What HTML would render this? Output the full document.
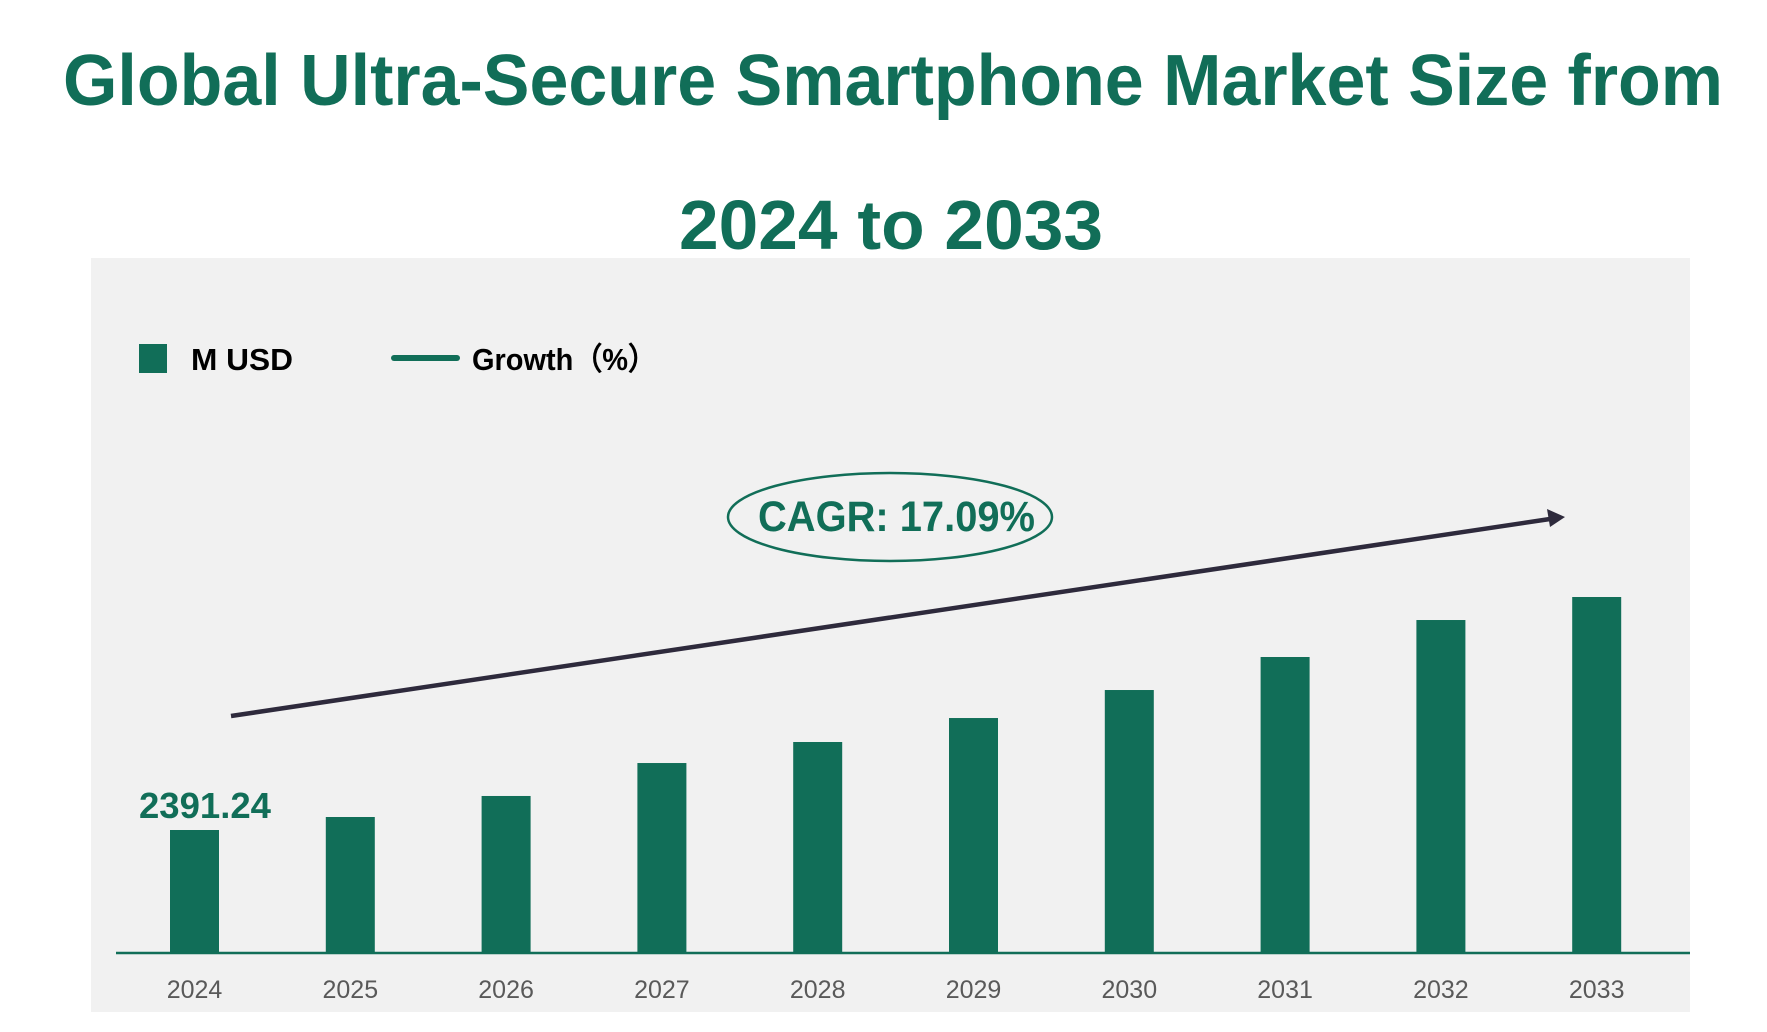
<!DOCTYPE html>
<html><head><meta charset="utf-8"><style>
html,body{margin:0;padding:0;background:#fff;}
svg{display:block;font-family:"Liberation Sans",sans-serif;}
</style></head><body>
<svg id="chart" width="1767" height="1032" viewBox="0 0 1767 1032" xmlns="http://www.w3.org/2000/svg">
<text x="893" y="105" text-anchor="middle" font-size="72" font-weight="bold" fill="#116e58" textLength="1660" lengthAdjust="spacingAndGlyphs">Global Ultra-Secure Smartphone Market Size from</text>
<text x="891" y="249" text-anchor="middle" font-size="70" font-weight="bold" fill="#116e58" textLength="424" lengthAdjust="spacingAndGlyphs">2024 to 2033</text>
<rect x="91" y="258" width="1599" height="754" fill="#f1f1f1"/>
<g>
<rect x="139" y="344" width="28" height="29" fill="#116e58"/>
<text x="191" y="370" font-size="31" font-weight="bold" fill="#000" textLength="102" lengthAdjust="spacingAndGlyphs">M USD</text>
<line x1="394" y1="358" x2="457" y2="358" stroke="#116e58" stroke-width="6" stroke-linecap="round"/>
<text x="472" y="370" font-size="31" font-weight="bold" fill="#000" textLength="185" lengthAdjust="spacingAndGlyphs">Growth（%）</text>
</g>
<g id="bars"></g>
<g id="xlabels"></g>
<line x1="116" y1="953" x2="1690" y2="953" stroke="#116e58" stroke-width="2.5"/>
<line x1="231" y1="716" x2="1550" y2="519" stroke="#2e2a3c" stroke-width="4.5"/>
<polygon points="1565,517 1547,509 1550,527" fill="#2e2a3c"/>
<ellipse cx="890" cy="517" rx="162" ry="44" fill="none" stroke="#116e58" stroke-width="2.5"/>
<text x="758" y="531" font-size="43" font-weight="bold" fill="#116e58" textLength="277" lengthAdjust="spacingAndGlyphs">CAGR: 17.09%</text>
<text x="139" y="818" font-size="36" font-weight="bold" fill="#116e58" textLength="132" lengthAdjust="spacingAndGlyphs">2391.24</text>
</svg>
<script>
const categories = ["2024","2025","2026","2027","2028","2029","2030","2031","2032","2033"];
const values = [2391.24, 2646, 3058, 3704, 4116, 4586, 5135, 5782, 6507, 6958];
const NS = "http://www.w3.org/2000/svg";
const baseY = 952, pxPerUnit = 122 / 2391.24;
function yScale(v){ return baseY - v * pxPerUnit; }
function xScale(i){ return 194.5 + i * 155.8; }
const barW = 49;
const gb = document.getElementById('bars'), gl = document.getElementById('xlabels');
categories.forEach((c, i) => {
  const r = document.createElementNS(NS, 'rect');
  r.setAttribute('x', xScale(i) - barW / 2);
  r.setAttribute('y', yScale(values[i]));
  r.setAttribute('width', barW);
  r.setAttribute('height', baseY - yScale(values[i]) + 1);
  r.setAttribute('fill', '#116e58');
  
  
  gb.appendChild(r);
  const t = document.createElementNS(NS, 'text');
  t.setAttribute('x', xScale(i));
  t.setAttribute('y', 998);
  t.setAttribute('text-anchor', 'middle');
  t.setAttribute('font-size', '25');
  t.setAttribute('fill', '#595959');
  t.textContent = c;
  
  
  gl.appendChild(t);
});
</script>
</body></html>
